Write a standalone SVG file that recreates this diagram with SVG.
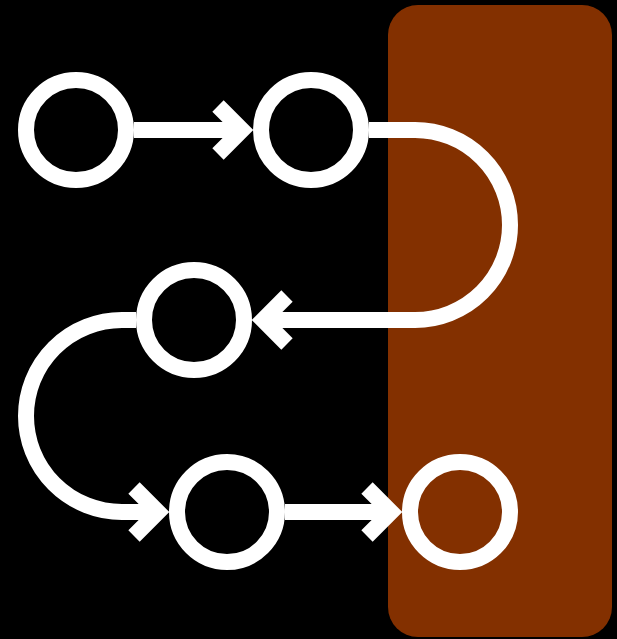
<svg xmlns="http://www.w3.org/2000/svg" width="617" height="639" viewBox="0 0 617 639">
  <style>
    .node { fill: none; stroke: #ffffff; stroke-width: 16; }
    .edge { fill: none; stroke: #ffffff; stroke-width: 16; stroke-linecap: butt; }
  </style>
  <defs>
    <marker id="chev" markerUnits="userSpaceOnUse" markerWidth="60" markerHeight="60" refX="0" refY="0" viewBox="-30 -30 60 60" orient="auto" overflow="visible">
      <path d="M -24,-24 L 0,0 L -24,24" fill="none" stroke="#ffffff" stroke-width="16" stroke-linejoin="miter" stroke-miterlimit="10"/>
    </marker>
  </defs>
  <rect x="0" y="0" width="617" height="639" fill="#000000"/>
  <rect id="region" x="388" y="5" width="224" height="632" rx="30" ry="30" fill="#833000"/>
  <g id="connectors">
    <path class="edge" d="M 134,130 H 242" marker-end="url(#chev)"/>
    <path class="edge" d="M 369,130 H 415 A 95 95 0 0 1 415,320 H 263" marker-end="url(#chev)"/>
    <path class="edge" d="M 136,320 H 122 A 96 96 0 0 0 122,512 H 158" marker-end="url(#chev)"/>
    <path class="edge" d="M 285,512 H 391" marker-end="url(#chev)"/>
  </g>
  <g id="n1"><circle class="node" cx="76" cy="130" r="50"/></g>
  <g id="n2"><circle class="node" cx="311" cy="130" r="50"/></g>
  <g id="n3"><circle class="node" cx="194" cy="320" r="50"/></g>
  <g id="n4"><circle class="node" cx="227" cy="512" r="50"/></g>
  <g id="n5"><circle class="node" cx="460" cy="512" r="50"/></g>
</svg>
